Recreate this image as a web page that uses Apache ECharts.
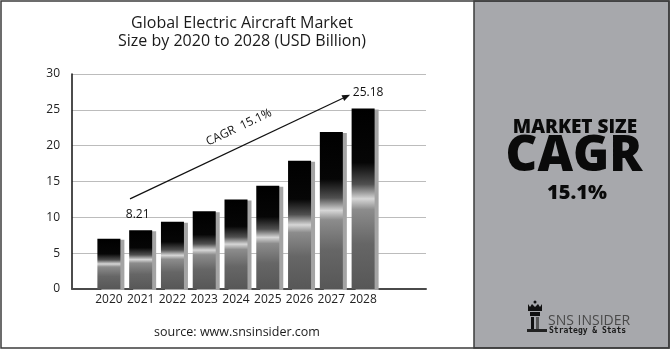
<!DOCTYPE html>
<html><head><meta charset="utf-8">
<script src="https://cdn.jsdelivr.net/npm/echarts@6/dist/echarts.min.js"></script>
<style>html,body{margin:0;padding:0;background:#fff}#c{width:670px;height:350px}</style>
</head><body><div id="c"></div>
<script>
const years = ['2020','2021','2022','2023','2024','2025','2026','2027','2028'];
const marketSize = [7.0, 8.21, 9.4, 10.85, 12.5, 14.4, 17.9, 21.9, 25.18];
const labeledYears = ['2021','2028'];
const yTicks = [0, 5, 10, 15, 20, 25, 30];
const titleLines = ['Global Electric Aircraft Market', 'Size by 2020 to 2028 (USD Billion)'];
const cagrText = 'CAGR  15.1%';
const arrowFrom = [0.665, 12.57];
const arrowTo = [7.59, 27.1];

const FONT = '"Open Sans", sans-serif';
const chart = echarts.init(document.getElementById('c'), null, {renderer:'canvas'});
const barGrad = new echarts.graphic.LinearGradient(0,0,0,1,[
  {offset:0,color:'#000'},{offset:0.3,color:'#060606'},{offset:0.42,color:'#505050'},
  {offset:0.5,color:'#d6d6d6'},{offset:0.56,color:'#8c8c8c'},{offset:0.75,color:'#666'},{offset:1,color:'#575757'}]);

const option = {
  animation:false,
  backgroundColor:'#fff',
  title:{text:titleLines.join('\n'),left:237,textAlign:'center',top:9,
    textStyle:{fontFamily:FONT,fontSize:16,fontWeight:'normal',color:'#1a1a1a',lineHeight:18}},
  grid:[{left:72,right:244,top:74,bottom:61},{left:93,right:291,top:74,bottom:61}],
  xAxis:[
    {gridIndex:0,type:'value',min:0,max:1,axisLabel:{show:false},axisTick:{show:false},splitLine:{show:false},
      axisLine:{show:true,lineStyle:{color:'#4a4a4a',width:2}}},
    {gridIndex:1,type:'category',data:years,axisLine:{show:false},axisTick:{show:false},
      axisLabel:{color:'#222',fontFamily:FONT,fontSize:12,margin:5,interval:0}}
  ],
  yAxis:[
    {gridIndex:0,type:'value',min:yTicks[0],max:yTicks[yTicks.length-1],interval:5,
      axisLine:{show:true,lineStyle:{color:'#111',width:1.5}},axisTick:{show:false},
      axisLabel:{color:'#222',fontFamily:FONT,fontSize:12,margin:12},
      splitLine:{show:true,lineStyle:{color:'#bcbcbc',width:1}}},
    {gridIndex:1,type:'value',min:yTicks[0],max:yTicks[yTicks.length-1],interval:5,show:false,splitLine:{show:false}}
  ],
  series:[{
    type:'bar',xAxisIndex:1,yAxisIndex:1,barWidth:23,
    data:marketSize.map((v,i)=>{
      const d={value:v};
      if(labeledYears.includes(years[i])){
        d.label={show:true,position:'top',distance:10,formatter:String(v),
          offset: years[i]==='2028'?[5,0]:[-3,0]};
      }
      return d;
    }),
    label:{color:'#111',fontFamily:FONT,fontSize:12},
    itemStyle:{color:barGrad,shadowColor:'#a4a4a4',shadowOffsetX:4,shadowOffsetY:1,shadowBlur:0}
  }]
};
chart.setOption(option);

function toPx(p){
  const a = chart.convertToPixel({xAxisIndex:1,yAxisIndex:1},[years[0],p[1]]);
  const b = chart.convertToPixel({xAxisIndex:1,yAxisIndex:1},[years[1],p[1]]);
  return [a[0]+(b[0]-a[0])*p[0], a[1]];
}
const s = toPx(arrowFrom), e = toPx(arrowTo);
const ang = Math.atan2(e[1]-s[1], e[0]-s[0]);
const hl=8, hw=3.2;
const bx=e[0]-hl*Math.cos(ang), by=e[1]-hl*Math.sin(ang);
const head=[[e[0],e[1]],[bx+hw*Math.sin(ang),by-hw*Math.cos(ang)],[bx-hw*Math.sin(ang),by+hw*Math.cos(ang)]];
const mid=[s[0]+(e[0]-s[0])*0.53, s[1]+(e[1]-s[1])*0.53];
const off=18;
const tp=[mid[0]+off*Math.sin(ang), mid[1]-off*Math.cos(ang)];

const lx=527, ly=300;
chart.setOption({graphic:[
  {type:'rect',shape:{x:1,y:1,width:668,height:347},style:{fill:'none',stroke:'#3c3c3c',lineWidth:1.5},z:100},
  {type:'rect',shape:{x:474,y:1,width:195,height:347},style:{fill:'#a7a8ac',stroke:'#3c3c3c',lineWidth:1.5},z:90},
  {type:'line',shape:{x1:s[0],y1:s[1],x2:bx,y2:by},style:{stroke:'#111',lineWidth:1.2},z:50},
  {type:'polygon',shape:{points:head},style:{fill:'#111'},z:50},
  {type:'text',x:tp[0],y:tp[1],rotation:-ang,style:{text:cagrText,fill:'#111',font:'12px '+FONT,align:'center',verticalAlign:'middle'},z:50},
  {type:'text',x:237,y:332,style:{text:'source: www.snsinsider.com',fill:'#1a1a1a',font:'12.5px '+FONT,align:'center',verticalAlign:'middle'},z:50},
  {type:'text',x:575,y:128,style:{text:'MARKET SIZE',fill:'#0a0a0a',font:'800 19px '+FONT,align:'center',verticalAlign:'middle'},z:95},
  {type:'text',x:574,y:157,style:{text:'CAGR',fill:'#0a0a0a',font:'800 49px '+FONT,align:'center',verticalAlign:'middle'},z:95},
  {type:'text',x:577,y:193,style:{text:'15.1%',fill:'#0a0a0a',font:'800 20px '+FONT,align:'center',verticalAlign:'middle'},z:95},
  {type:'text',x:548,y:321,style:{text:'SNS INSIDER',fill:'#4a4a4a',font:'14px '+FONT,align:'left',verticalAlign:'middle'},z:95},
  {type:'text',x:549,y:331,style:{text:'Strategy & Stats',fill:'#1a1a1a',font:'bold 8px "DejaVu Sans Mono", monospace',align:'left',verticalAlign:'middle'},z:95},
  {type:'circle',shape:{cx:lx+8,cy:ly+2,r:1.5},style:{fill:'#111'},z:95},
  {type:'polygon',shape:{points:[[lx+1,ly+4],[lx+3,ly+7],[lx+5,ly+4],[lx+8,ly+7],[lx+11,ly+4],[lx+13,ly+7],[lx+15,ly+4],[lx+15,ly+11],[lx+1,ly+11]]},style:{fill:'#111'},z:95},
  {type:'rect',shape:{x:lx+3,y:ly+12,width:10,height:4},style:{fill:'#111'},z:95},
  {type:'rect',shape:{x:lx+4,y:ly+17,width:3,height:13},style:{fill:'#111'},z:95},
  {type:'rect',shape:{x:lx+9,y:ly+17,width:3,height:13},style:{fill:'#555'},z:95},
  {type:'rect',shape:{x:lx,y:ly+29,width:20,height:3},style:{fill:'#222'},z:95}
]});
</script></body></html>
